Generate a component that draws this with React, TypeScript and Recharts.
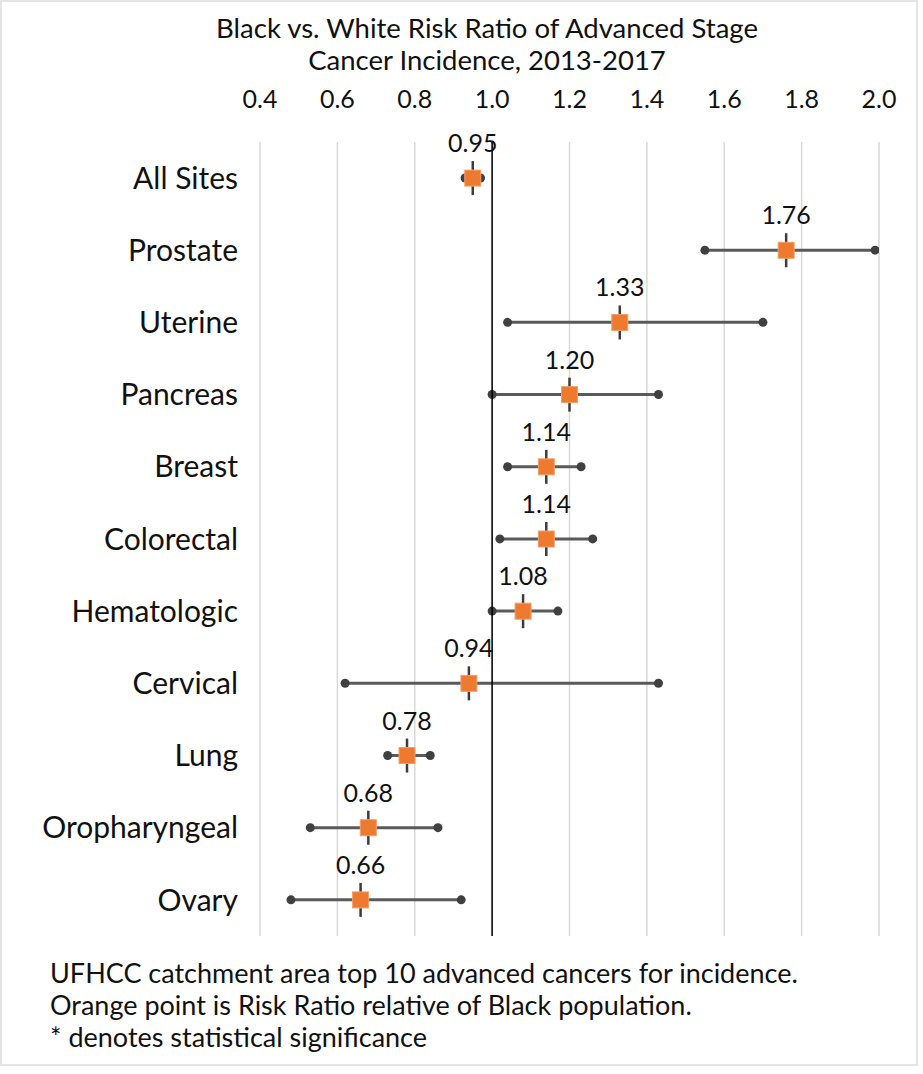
import React from 'react';
import {
  ComposedChart,
  Bar,
  Line,
  XAxis,
  YAxis,
  CartesianGrid,
  ReferenceLine,
  LabelList,
} from 'recharts';

const categories = [
  'All Sites',
  'Prostate',
  'Uterine',
  'Pancreas',
  'Breast',
  'Colorectal',
  'Hematologic',
  'Cervical',
  'Lung',
  'Oropharyngeal',
  'Ovary',
];
const riskRatio = [0.95, 1.76, 1.33, 1.2, 1.14, 1.14, 1.08, 0.94, 0.78, 0.68, 0.66];
const ciLow = [0.93, 1.55, 1.04, 1.0, 1.04, 1.02, 1.0, 0.62, 0.73, 0.53, 0.48];
const ciHigh = [0.97, 1.99, 1.7, 1.43, 1.23, 1.26, 1.17, 1.43, 0.84, 0.86, 0.92];
const xTicks = [0.4, 0.6, 0.8, 1.0, 1.2, 1.4, 1.6, 1.8, 2.0];
const titleLines = ['Black vs. White Risk Ratio of Advanced Stage', 'Cancer Incidence, 2013-2017'];
const footnotes = [
  'UFHCC catchment area top 10 advanced cancers for incidence.',
  'Orange point is Risk Ratio relative of Black population.',
  '* denotes statistical significance',
];

const data = categories.map((name, i) => ({
  name,
  rr: riskRatio[i],
  ci: [ciLow[i], ciHigh[i]],
}));

const FONT = 'Lato, "Open Sans", sans-serif';

const CiShape = (props: any) => {
  const { x, y, width, height } = props;
  const cy = y + height / 2;
  const x2 = x + width;
  return (
    <g>
      <line x1={x} y1={cy} x2={x2} y2={cy} stroke="#5a5a5a" strokeWidth={3} />
      <circle cx={x} cy={cy} r={4.5} fill="#404040" />
      <circle cx={x2} cy={cy} r={4.5} fill="#404040" />
    </g>
  );
};

const RrDot = (props: any) => {
  const { cx, cy } = props;
  if (cx == null || cy == null) return null;
  return (
    <g>
      <line x1={cx} y1={cy - 17} x2={cx} y2={cy + 17} stroke="#3c3c3c" strokeWidth={2.5} />
      <rect x={cx - 8} y={cy - 8} width={16} height={16} fill="#EE7A30" stroke="#F2A06A" strokeWidth={1} />
    </g>
  );
};

export default function App() {
  return (
    <div
      style={{
        position: 'absolute',
        left: 0,
        top: 0,
        width: 923,
        height: 1074,
        background: '#ffffff',
        fontFamily: FONT,
        overflow: 'hidden',
      }}
    >
      <div
        style={{
          position: 'absolute',
          left: 0,
          top: 0,
          width: 918,
          height: 1066,
          border: '2px solid #e4e4e4',
          boxSizing: 'border-box',
        }}
      />
      <div
        style={{
          position: 'absolute',
          left: 487,
          top: 12,
          transform: 'translateX(-50%)',
          whiteSpace: 'nowrap',
          textAlign: 'center',
          fontSize: 27.5,
          lineHeight: '32px',
          color: '#111111',
        }}
      >
        {titleLines.map((t) => (
          <div key={t}>{t}</div>
        ))}
      </div>
      <div style={{ position: 'absolute', left: 0, top: 0 }}>
        <ComposedChart
          width={923}
          height={1074}
          layout="vertical"
          data={data}
          margin={{ top: 102, right: 44, bottom: 138, left: 0 }}
        >
          <CartesianGrid horizontal={false} vertical stroke="#d9d9d9" strokeWidth={1.5} />
          <XAxis
            type="number"
            orientation="top"
            domain={[0.4, 2.0]}
            ticks={xTicks}
            allowDataOverflow
            height={40}
            axisLine={false}
            tickLine={false}
            tickMargin={28}
            tickFormatter={(v: number) => v.toFixed(1)}
            tick={{ fontSize: 25, fill: '#111111', fontFamily: FONT }}
          />
          <YAxis
            type="category"
            dataKey="name"
            width={260}
            axisLine={false}
            tickLine={false}
            tickMargin={16}
            interval={0}
            tick={{ fontSize: 30, fill: '#111111', fontFamily: FONT }}
          />
          <ReferenceLine x={1} stroke="#000000" strokeWidth={1.5} />
          <Bar dataKey="ci" barSize={10} shape={<CiShape />} isAnimationActive={false} />
          <Line
            dataKey="rr"
            stroke="none"
            dot={<RrDot />}
            activeDot={false}
            isAnimationActive={false}
          >
            <LabelList
              dataKey="rr"
              position="top"
              offset={26}
              formatter={(v: any) => Number(v).toFixed(2)}
              style={{ fontSize: 25, fill: '#111111', fontFamily: FONT }}
            />
          </Line>
        </ComposedChart>
      </div>
      <div
        style={{
          position: 'absolute',
          left: 50,
          top: 957,
          fontSize: 27,
          lineHeight: '32px',
          color: '#111111',
          whiteSpace: 'nowrap',
        }}
      >
        {footnotes.map((t) => (
          <div key={t}>{t}</div>
        ))}
      </div>
    </div>
  );
}
